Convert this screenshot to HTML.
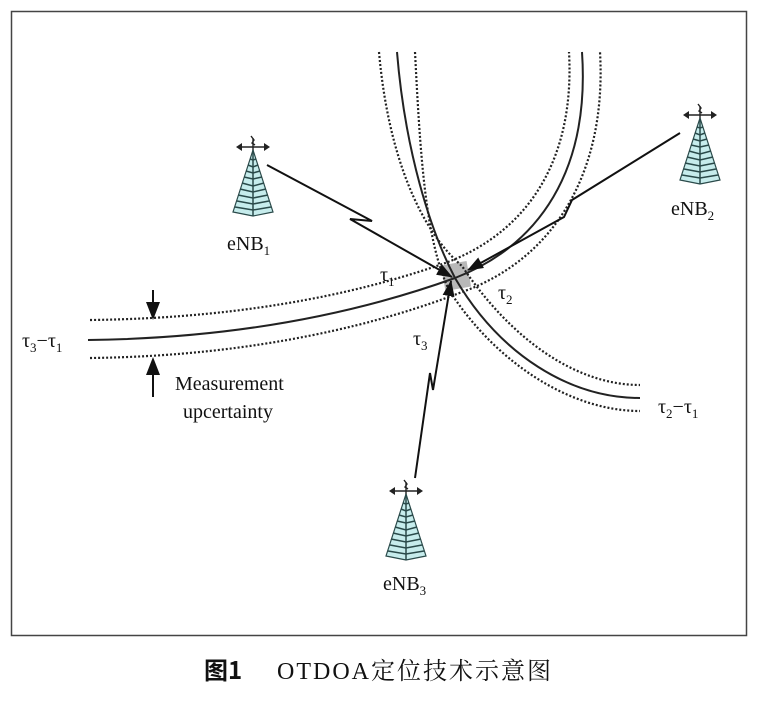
<!DOCTYPE html>
<html><head><meta charset="utf-8"><style>
html,body{margin:0;padding:0;background:#fff;}
svg{display:block;}
</style></head><body>
<svg width="765" height="701" viewBox="0 0 765 701" xmlns="http://www.w3.org/2000/svg" font-family="Liberation Serif, serif">
<defs>
<g id="tw">
 <path d="M0,0 L-20,62 L0,66 L20,62 Z" fill="#c6ecec" stroke="#2a4a4a" stroke-width="1.2"/>
 <g stroke="#2a4a4a" stroke-width="1.5" fill="none">
  <path d="M-3,9 L0,10 L3,9"/><path d="M-5,15 L0,17 L5,15"/><path d="M-7,21 L0,23 L7,21"/>
  <path d="M-9,27 L0,29 L9,27"/><path d="M-11,33 L0,36 L11,33"/><path d="M-13,39 L0,42 L13,39"/>
  <path d="M-15,45 L0,48 L15,45"/><path d="M-16,51 L0,54 L16,51"/><path d="M-18,57 L0,60 L18,57"/>
  <path d="M0,0 L0,66"/>
 </g>
 <g stroke="#222" stroke-width="1.4" fill="none">
  <path d="M0,0 L0,-12 M-2,-14 L1,-10 L-1,-7 L2,-5"/>
  <path d="M-14,-3 L14,-3"/>
 </g>
 <path d="M-17,-3 L-11,-7 L-11,1 Z M17,-3 L11,-7 L11,1 Z" fill="#222"/>
</g>
<marker id="ah" markerWidth="16" markerHeight="12" refX="15" refY="6" orient="auto" markerUnits="userSpaceOnUse">
 <path d="M0,0 L16,6 L0,12 Z" fill="#111"/>
</marker>
</defs>
<rect x="11.5" y="11.5" width="735" height="624" fill="none" stroke="#444" stroke-width="1.5"/>

<rect x="443" y="263" width="26" height="26" fill="#b8b8b8" transform="rotate(-10 456 276)"/>

<g fill="none" stroke="#222">
<path d="M88,340 C 260,338 380,305 455,278 C 540,245 590,170 582,52" stroke-width="2"/>
<path d="M90,320 C 260,318 375,288 448,262 C 528,231 575,160 569,52" stroke-width="2.2" stroke-dasharray="2,2"/>
<path d="M90,358 C 260,356 385,322 462,292 C 552,260 607,175 600,52" stroke-width="2.2" stroke-dasharray="2,2"/>
<path d="M397,52 C 405,150 430,230 455,278 C 500,355 570,398 640,398" stroke-width="2"/>
<path d="M379,52 C 388,155 420,230 462,266 C 510,338 575,385 640,385" stroke-width="2.2" stroke-dasharray="2,2"/>
<path d="M415,52 C 420,150 425,240 449,290 C 495,362 570,411 640,411" stroke-width="2.2" stroke-dasharray="2,2"/>
</g>

<g fill="none" stroke="#111" stroke-width="2" marker-end="url(#ah)">
<path d="M267,165 L372,221 L350,219 L452,277"/>
<path d="M680,133 L572,200 L564,217 L468,270"/>
<path d="M415,478 L430,373 L433,390 L451,281"/>
</g>

<g stroke="#111" stroke-width="2">
<line x1="153" y1="290" x2="153" y2="308"/>
<line x1="153" y1="397" x2="153" y2="372"/>
</g>
<path d="M146,302 L160,302 L153,320 Z M146,375 L160,375 L153,357 Z" fill="#111"/>

<use href="#tw" x="253" y="150"/>
<use href="#tw" x="700" y="118"/>
<use href="#tw" x="406" y="494"/>

<g font-size="20" fill="#111">
<text x="227" y="250">eNB<tspan font-size="13" dy="5">1</tspan></text>
<text x="671" y="215">eNB<tspan font-size="13" dy="5">2</tspan></text>
<text x="383" y="590">eNB<tspan font-size="13" dy="5">3</tspan></text>
<text x="380" y="281">τ<tspan font-size="13" dy="5">1</tspan></text>
<text x="498" y="299">τ<tspan font-size="13" dy="5">2</tspan></text>
<text x="413" y="345">τ<tspan font-size="13" dy="5">3</tspan></text>
<text x="22" y="347">τ<tspan font-size="13" dy="5">3</tspan><tspan dy="-5">−τ</tspan><tspan font-size="13" dy="5">1</tspan></text>
<text x="658" y="413">τ<tspan font-size="13" dy="5">2</tspan><tspan dy="-5">−τ</tspan><tspan font-size="13" dy="5">1</tspan></text>
<text x="175" y="390">Measurement</text>
<text x="183" y="418">upcertainty</text>
</g>
<text x="204" y="679" font-size="24" fill="#111" font-family="Liberation Serif, 'Noto Serif CJK SC', serif"><tspan font-weight="bold" font-family="'Noto Sans CJK SC', sans-serif">图1</tspan><tspan x="277" letter-spacing="2">OTDOA定位技术示意图</tspan></text>
</svg>
</body></html>
